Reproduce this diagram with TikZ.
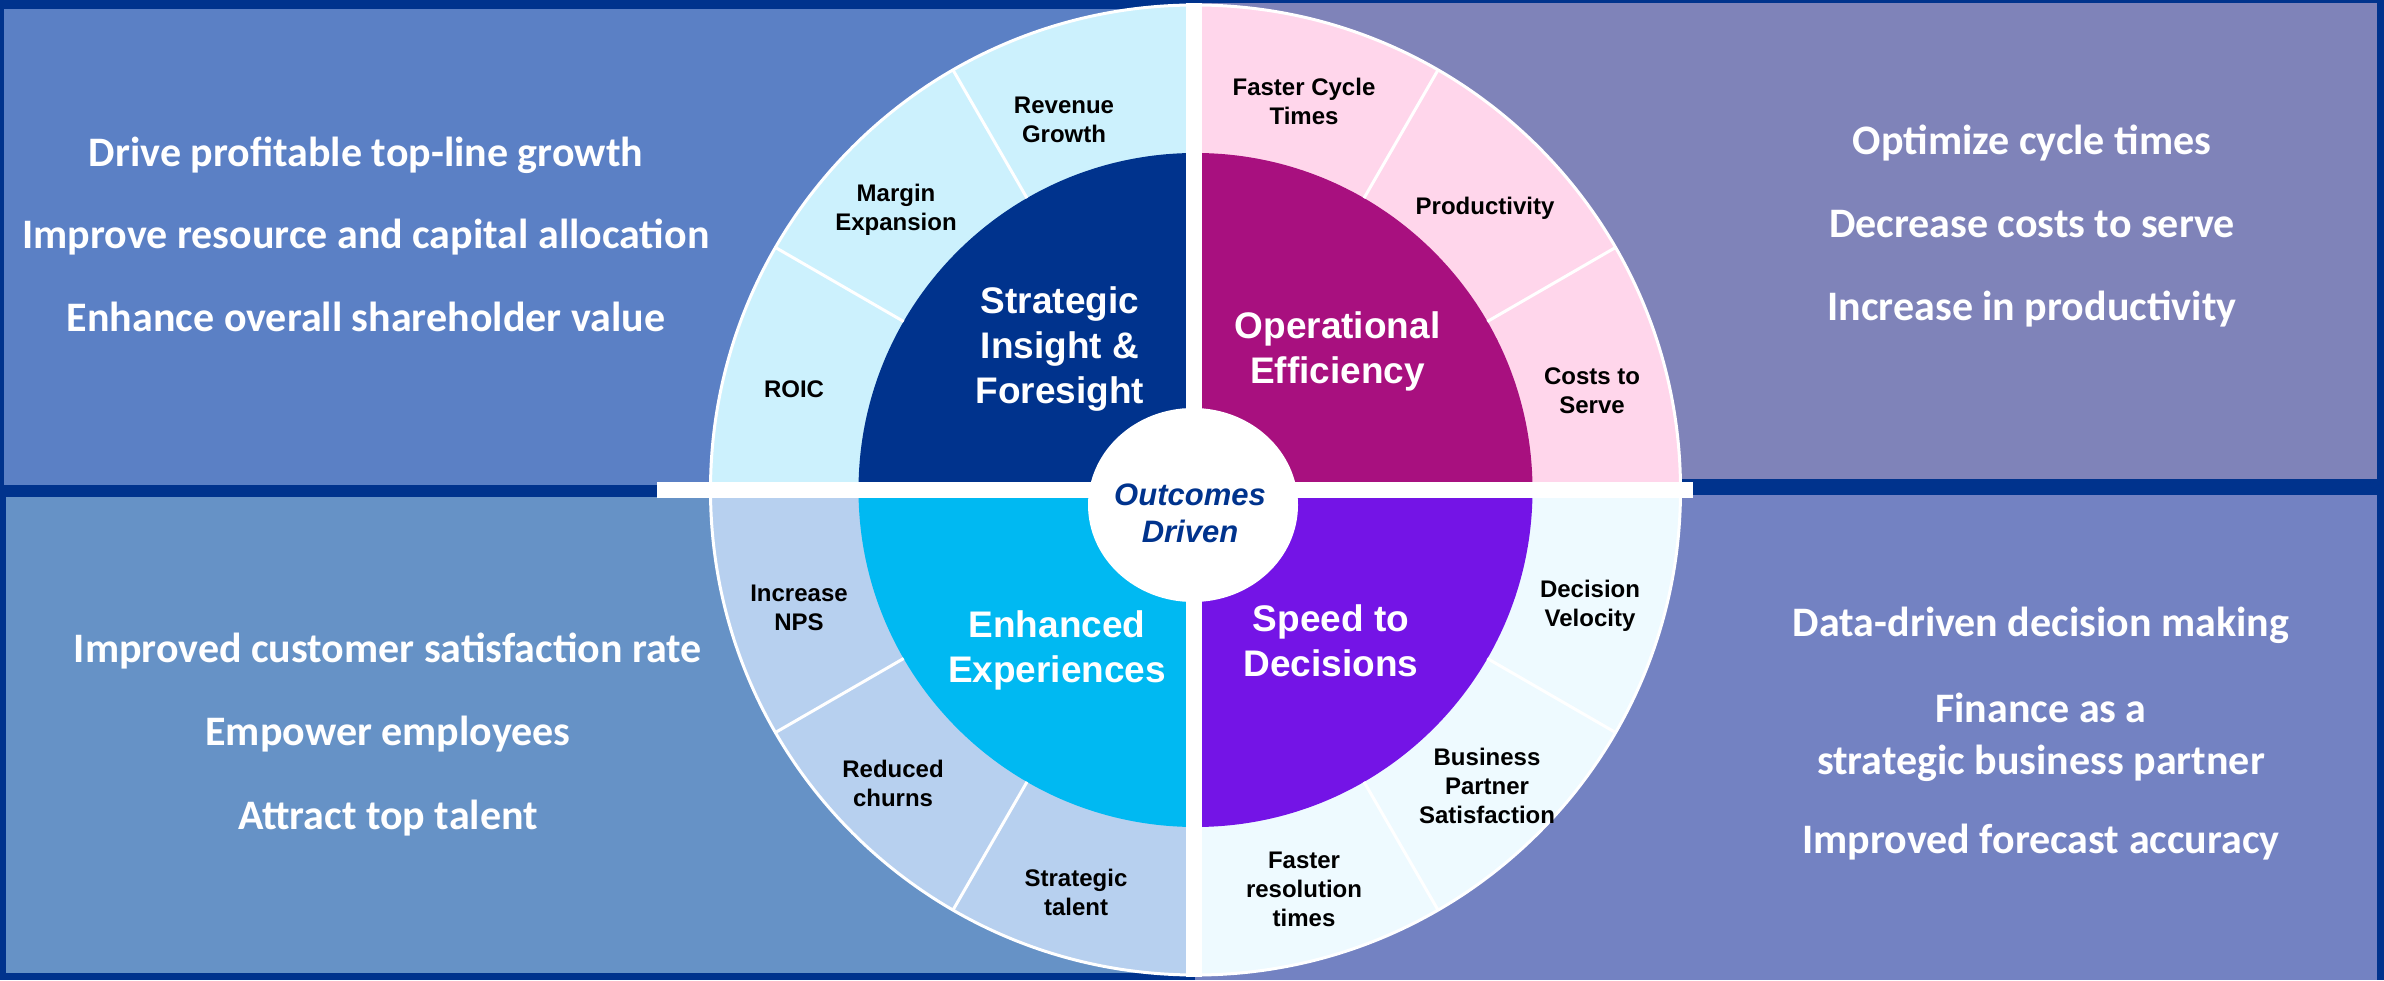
\documentclass[tikz,border=0pt]{standalone}
\usepackage{fontspec}
\usetikzlibrary{calc}
\setmainfont{Liberation Sans}
\newfontfamily\calfont{Carlito}
\definecolor{navy}{HTML}{00338D}
\definecolor{panelTL}{HTML}{5B80C5}
\definecolor{panelTR}{HTML}{7F83B9}
\definecolor{panelBL}{HTML}{6692C6}
\definecolor{panelBR}{HTML}{7382C2}
\definecolor{ringTL}{HTML}{CCF1FD}
\definecolor{ringTR}{HTML}{FFD6EB}
\definecolor{ringBL}{HTML}{B7D0EF}
\definecolor{ringBR}{HTML}{EEFAFF}
\definecolor{coreTL}{HTML}{00338D}
\definecolor{coreTR}{HTML}{A8107F}
\definecolor{coreBL}{HTML}{00B9F2}
\definecolor{coreBR}{HTML}{7414E6}
\tikzset{
  sidetext/.style={anchor=base, text=white, inner sep=0pt, font=\calfont\bfseries\fontsize{42}{51}\selectfont},
  sideblock/.style={align=center, text=white, inner sep=0pt, font=\calfont\bfseries\fontsize{42}{52}\selectfont},
  ringlabel/.style={align=center, text=black, inner sep=0pt, font=\bfseries\fontsize{24}{29}\selectfont},
  corelabel/.style={align=center, text=white, inner sep=0pt, font=\bfseries\fontsize{37}{45}\selectfont},
  hublabel/.style={align=center, text=navy, inner sep=0pt, font=\bfseries\itshape\fontsize{31}{37}\selectfont},
  divider/.style={white, line width=3pt},
}
\begin{document}
\begin{tikzpicture}[x=1pt,y=1pt]
\useasboundingbox (0,0) rectangle (2384,980);
% background and panels
\fill[navy] (0,0) rectangle (2384,980);
\fill[panelTL] (4,495) rectangle (1195,971);
\fill[panelTR] (1195,501) rectangle (2377,977);
\fill[panelBL] (6,7) rectangle (1195,483);
\fill[panelBR] (1195,0) rectangle (2377,485);
% wheel
\coordinate (c) at (1195.5,490);
\fill[ringTL] (c) -- +(90:485) arc[start angle=90, end angle=180, radius=485] -- cycle;
\fill[ringBL] (c) -- +(180:485) arc[start angle=180, end angle=270, radius=485] -- cycle;
\fill[ringBR] (c) -- +(270:485) arc[start angle=270, end angle=360, radius=485] -- cycle;
\fill[ringTR] (c) -- +(0:485) arc[start angle=0, end angle=90, radius=485] -- cycle;
\fill[coreTL] (c) -- +(90:337) arc[start angle=90, end angle=180, radius=337] -- cycle;
\fill[coreBL] (c) -- +(180:337) arc[start angle=180, end angle=270, radius=337] -- cycle;
\fill[coreBR] (c) -- +(270:337) arc[start angle=270, end angle=360, radius=337] -- cycle;
\fill[coreTR] (c) -- +(0:337) arc[start angle=0, end angle=90, radius=337] -- cycle;
\foreach \a in {30,60,120,150,210,240,300,330}
  \draw[divider] ($(c)+(\a:337)$) -- ($(c)+(\a:485)$);
\draw[white, line width=3pt] (c) circle[radius=485];
% white cross and hub
\fill[white] (1186,3) rectangle (1202,977);
\fill[white] (657,482) rectangle (1693,498);
\fill[white] (1193,475) ellipse[x radius=105, y radius=97];
% core labels
\node[corelabel] (strat) at (1060,631) {Strategic\\Insight \&\\Foresight};
\node[corelabel] (oper) at (1337.5,629) {Operational\\Efficiency};
\node[corelabel] (enh) at (1057,330) {Enhanced\\Experiences};
\node[corelabel] (speed) at (1331,339) {Speed to\\Decisions};
\node[hublabel] (hub) at (1190,466.5) {Outcomes\\Driven};
% ring labels
\node[ringlabel] (rev) at (1064,860) {Revenue\\Growth};
\node[ringlabel] (marg) at (896,770.5) {Margin\\Expansion};
\node[ringlabel] (roic) at (794,590.5) {ROIC};
\node[ringlabel] (fct) at (1304,879) {Faster Cycle\\Times};
\node[ringlabel] (prod) at (1485,772) {Productivity};
\node[ringlabel] (cts) at (1592,589.5) {Costs to\\Serve};
\node[ringlabel] (nps) at (799,372) {Increase\\NPS};
\node[ringlabel] (churn) at (893,196.5) {Reduced\\churns};
\node[ringlabel] (talent) at (1076,88) {Strategic\\talent};
\node[ringlabel] (dv) at (1590,374) {Decision\\Velocity};
\node[ringlabel] (bps) at (1487,194.5) {Business\\Partner\\Satisfaction};
\node[ringlabel] (frt) at (1304,91) {Faster\\resolution\\times};
% side texts
\node[sidetext] (tl1) at (366,813) {Drive profitable top-line growth};
\node[sidetext] (tl2) at (366,731) {Improve resource and capital allocation};
\node[sidetext] (tl3) at (366,648) {Enhance overall shareholder value};
\node[sidetext] (tr1) at (2032,825) {Optimize cycle times};
\node[sidetext] (tr2) at (2032,742) {Decrease costs to serve};
\node[sidetext] (tr3) at (2032,659) {Increase in productivity};
\node[sidetext] (bl1) at (388,317) {Improved customer satisfaction rate};
\node[sidetext] (bl2) at (388,234) {Empower employees};
\node[sidetext] (bl3) at (388,151) {Attract top talent};
\node[sidetext] (br1) at (2041,343) {Data-driven decision making};
\node[sideblock] (br2) at (2041,243) {Finance as a\\strategic business partner};
\node[sidetext] (br3) at (2041,127) {Improved forecast accuracy};
\end{tikzpicture}
\end{document}
